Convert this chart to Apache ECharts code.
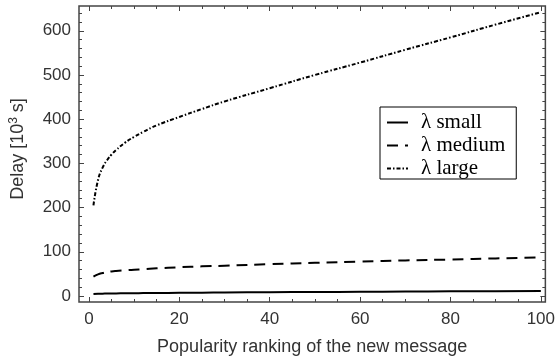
<!DOCTYPE html>
<html>
<head>
<meta charset="utf-8">
<script src="https://cdn.jsdelivr.net/npm/echarts@6/dist/echarts.min.js"></script>
<style>html,body{margin:0;padding:0;background:#fff;}#c{width:558px;height:363px;}</style>
</head>
<body>
<div id="c"></div>
<script>
const xs = [1,2,3,4,5,6,8,10,12,15,20,25,30,40,50,60,70,80,90,100];
const largeY = [205,262,290,307,320,330,347,360,371,386,405,423,440,470,500,528,557,585,614,642];
const mediumY = [44,49,52,54,55.5,56.5,58,59.5,60.5,62.5,65,67,68.5,72,75,78,80.5,82.5,85,87.5];
const smallY = [4.5,5,5.3,5.5,5.7,5.9,6.1,6.3,6.5,6.8,7.2,7.6,7.9,8.5,9,9.5,10,10.5,10.9,11.3];
const seriesNames = ['λ small', 'λ medium', 'λ large'];
const xMajor = [0,20,40,60,80,100];
const xMinor = [5,10,15,25,30,35,45,50,55,65,70,75,85,90,95];
const yMajor = [0,100,200,300,400,500,600];
const yMinor = [20,40,60,80,120,140,160,180,220,240,260,280,320,340,360,380,420,440,460,480,520,540,560,580,620,640];

const XMIN = -2.2, XMAX = 101, YMIN = -13.6, YMAX = 656;
const frame = '#444';
const sans = 'Liberation Sans, Arial, sans-serif';

function pairs(ys) { return xs.map((x, i) => [x, ys[i]]); }

function xAx(pos, ticks, len, labels, extra) {
  return Object.assign({
    type: 'value', position: pos, min: XMIN, max: XMAX,
    axisLine: { show: false, onZero: false },
    axisTick: { show: true, inside: true, length: len, customValues: ticks, lineStyle: { color: frame, width: 1 } },
    axisLabel: labels ? { show: true, customValues: ticks, fontSize: 17, color: '#333', margin: 9, fontFamily: sans } : { show: false },
    splitLine: { show: false }
  }, extra || {});
}
function yAx(pos, ticks, len, labels, extra) {
  return Object.assign({
    type: 'value', position: pos, min: YMIN, max: YMAX,
    axisLine: { show: false, onZero: false },
    axisTick: { show: true, inside: true, length: len, customValues: ticks, lineStyle: { color: frame, width: 1 } },
    axisLabel: labels ? { show: true, customValues: ticks, fontSize: 17, color: '#333', margin: 8, fontFamily: sans } : { show: false },
    splitLine: { show: false }
  }, extra || {});
}

const chart = echarts.init(document.getElementById('c'), null, { renderer: 'canvas' });
chart.setOption({
  animation: false,
  backgroundColor: '#fff',
  grid: { left: 76, right: 8, top: 6, bottom: 61, show: true, borderColor: frame, borderWidth: 1.5, backgroundColor: 'transparent' },
  xAxis: [
    xAx('bottom', xMajor, 5, true, {
      name: 'Popularity ranking of the new message', nameLocation: 'middle', nameGap: 36,
      nameTextStyle: { fontSize: 18, color: '#333', fontFamily: sans }
    }),
    xAx('bottom', xMinor, 3, false),
    xAx('top', xMajor, 5, false),
    xAx('top', xMinor, 3, false)
  ],
  yAxis: [
    yAx('left', yMajor, 5, true, {
      name: '{a|Delay [10}{s|3}{a| s]}', nameLocation: 'middle', nameGap: 50,
      nameTextStyle: {
        color: '#333', fontFamily: sans, padding: [0, 0, 0, 10],
        rich: {
          a: { fontSize: 18, color: '#333', fontFamily: sans },
          s: { fontSize: 12, color: '#333', fontFamily: sans, padding: [0, 0, 9, 0] }
        }
      }
    }),
    yAx('left', yMinor, 3, false),
    yAx('right', yMajor, 5, false),
    yAx('right', yMinor, 3, false)
  ],
  legend: {
    orient: 'vertical', left: 380, top: 107,
    data: seriesNames,
    backgroundColor: '#fff', borderColor: '#000', borderWidth: 1,
    padding: [5, 11, 0, 6],
    itemWidth: 21, itemHeight: 14, itemGap: 2,
    itemStyle: { opacity: 0 },
    textStyle: { fontSize: 21, lineHeight: 18, color: '#000', fontFamily: 'Liberation Serif, Times New Roman, serif', padding: [0, 0, 0, 8] }
  },
  series: [
    { name: seriesNames[0], type: 'line', data: pairs(smallY), showSymbol: false, symbol: 'none', smooth: 0.5,
      lineStyle: { color: '#000', width: 2, type: 'solid' }, itemStyle: { color: '#000' } },
    { name: seriesNames[1], type: 'line', data: pairs(mediumY), showSymbol: false, symbol: 'none', smooth: 0.5,
      lineStyle: { color: '#000', width: 2, type: [11, 7] }, itemStyle: { color: '#000' } },
    { name: seriesNames[2], type: 'line', data: pairs(largeY), showSymbol: false, symbol: 'none', smooth: 0.5,
      lineStyle: { color: '#000', width: 2, type: [4, 2, 1.5, 2] }, itemStyle: { color: '#000' } }
  ]
});
</script>
</body>
</html>
